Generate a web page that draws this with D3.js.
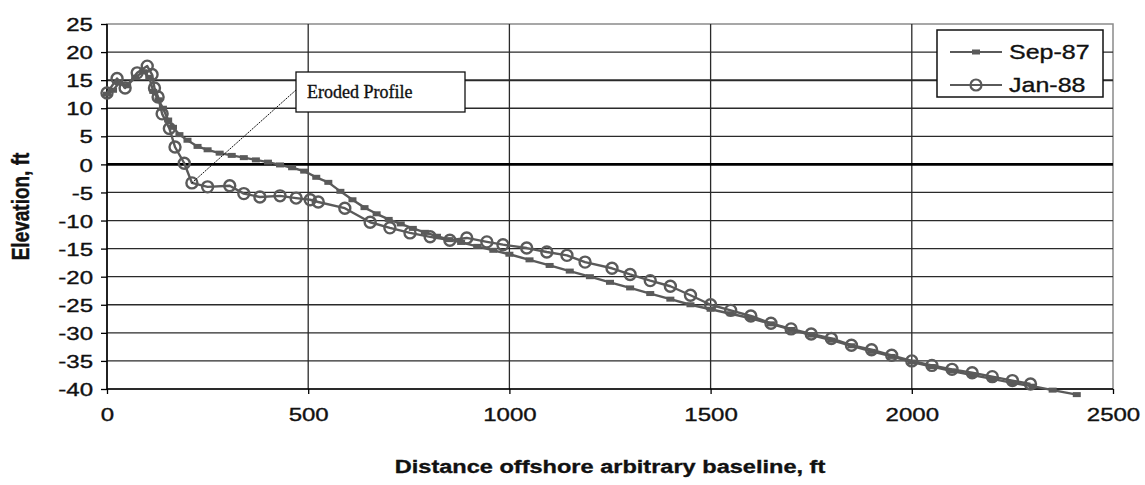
<!DOCTYPE html>
<html>
<head>
<meta charset="utf-8">
<script src="https://cdn.jsdelivr.net/npm/d3@7/dist/d3.min.js"></script>
<style>
  html, body { margin: 0; padding: 0; background: #fff; }
  svg { display: block; }
  text { stroke: #111; stroke-width: 0.35px; }
</style>
</head>
<body>
<svg id="chart" width="1145" height="485"></svg>
<script>
// Beach profile survey: distance offshore (ft) vs. elevation (ft)
const xTicks = [0, 500, 1000, 1500, 2000, 2500];
const yTicks = [25, 20, 15, 10, 5, 0, -5, -10, -15, -20, -25, -30, -35, -40];
const seriesNames = ["Sep-87", "Jan-88"];

const sep87X = [0, 15, 30, 50, 70, 90, 105, 115, 128, 139, 152, 164, 180, 200, 225, 250, 280, 310, 340, 370, 400, 430, 460, 490, 520, 550, 580, 610, 640, 670, 700, 730, 760, 790, 820, 850, 880, 920, 960, 1000, 1050, 1100, 1150, 1200, 1250, 1300, 1350, 1400, 1450, 1500, 1550, 1600, 1650, 1700, 1750, 1800, 1850, 1900, 1950, 2000, 2050, 2100, 2150, 2200, 2250, 2300, 2350, 2410];
const sep87Y = [12.5, 13.2, 14.5, 14, 15.5, 16.5, 15.5, 13, 11.5, 10, 7.9, 6.6, 5.3, 4.3, 3.2, 2.6, 2, 1.6, 1.2, 0.8, 0.4, -0.1, -0.6, -1.2, -2.3, -3.2, -4.8, -6.3, -7.7, -8.8, -9.8, -10.6, -11.4, -12.1, -12.8, -13.4, -13.9, -14.6, -15.3, -16, -17, -18, -19, -20, -21, -22, -23, -24, -25, -25.8, -26.6, -27.4, -28.4, -29.4, -30.4, -31.3, -32.3, -33.3, -34.2, -35.2, -36, -36.8, -37.5, -38.2, -38.9, -39.5, -40.2, -41];

const jan88X = [0, 25, 45, 75, 100, 112, 118, 127, 137, 155, 169, 192, 211, 250, 305, 340, 380, 430, 470, 505, 525, 591, 654, 703, 753, 803, 852, 894, 944, 984, 1043, 1093, 1143, 1188, 1255, 1300, 1350, 1400, 1450, 1500, 1550, 1600, 1650, 1700, 1750, 1800, 1850, 1900, 1950, 2000, 2050, 2100, 2150, 2200, 2250, 2295];
const jan88Y = [12.7, 15.3, 13.6, 16.3, 17.5, 16, 13.6, 12, 9, 6.4, 3.1, 0.2, -3.3, -4, -3.8, -5.2, -5.8, -5.6, -6, -6.3, -6.7, -7.8, -10.3, -11.3, -12.2, -12.9, -13.5, -13.1, -13.8, -14.3, -14.9, -15.6, -16.2, -17.4, -18.5, -19.6, -20.7, -21.7, -23.3, -25, -26, -27, -28.3, -29.3, -30.2, -31, -32.2, -33, -34, -35, -35.8, -36.5, -37.1, -37.8, -38.5, -39.1];

const annotationText = "Eroded Profile";
const annotationTarget = [211, -3.3];
const xTitle = "Distance offshore arbitrary baseline, ft";
const yTitle = "Elevation, ft";

const svg = d3.select("#chart");
const plot = { left: 107, right: 1113, top: 24, bottom: 389 };

const x = d3.scaleLinear().domain([0, 2500]).range([plot.left, plot.right]);
const y = d3.scaleLinear().domain([-40, 25]).range([plot.bottom, plot.top]);

const lineColor = "#5a5a5a";
const font = "'Liberation Sans', Arial, sans-serif";
const wide = 1.3; // horizontal glyph stretch of the sans-serif labels

// plot frame (top/right)
svg.append("rect")
  .attr("x", plot.left).attr("y", plot.top)
  .attr("width", plot.right - plot.left).attr("height", plot.bottom - plot.top)
  .attr("fill", "#fff").attr("stroke", "#8a8a8a").attr("stroke-width", 1.5);

// horizontal gridlines
svg.append("g").selectAll("line")
  .data(yTicks.filter(d => d !== -40 && d !== 0 && d !== 25))
  .join("line")
  .attr("x1", plot.left).attr("x2", plot.right)
  .attr("y1", d => y(d)).attr("y2", d => y(d))
  .attr("stroke", "#2a2a2a").attr("stroke-width", d => d === 15 ? 2 : 1.3);

// vertical gridlines
svg.append("g").selectAll("line")
  .data(xTicks.filter(d => d !== 0 && d !== 2500))
  .join("line")
  .attr("x1", d => x(d)).attr("x2", d => x(d))
  .attr("y1", plot.top).attr("y2", plot.bottom)
  .attr("stroke", "#2a2a2a").attr("stroke-width", 1.3);

// zero line
svg.append("line")
  .attr("x1", plot.left).attr("x2", plot.right)
  .attr("y1", y(0)).attr("y2", y(0))
  .attr("stroke", "#000").attr("stroke-width", 2.6);

// axes
const fmt = d => String(d);
const yAxis = d3.axisLeft(y).tickValues(yTicks).tickSize(6).tickPadding(8).tickFormat(fmt);
const gy = svg.append("g").attr("transform", `translate(${plot.left},0)`).call(yAxis);
const xAxis = d3.axisBottom(x).tickValues(xTicks).tickSize(5).tickPadding(10).tickFormat(fmt);
const gx = svg.append("g").attr("transform", `translate(0,${plot.bottom})`).call(xAxis);

[gx, gy].forEach(g => {
  g.select(".domain").attr("stroke", "#000").attr("stroke-width", 1.6);
  g.selectAll(".tick line").attr("stroke", "#000").attr("stroke-width", 1.3);
  g.selectAll(".tick text").attr("fill", "#111").style("font-family", font).style("font-size", "18.5px");
});
gx.select(".domain").attr("d", `M${plot.left},0H${plot.right}`);
gy.select(".domain").attr("d", `M0,${plot.top}V${plot.bottom}`);
gx.selectAll(".tick text").attr("dy", "0.9em");
gy.selectAll(".tick text").attr("dy", "0.36em");

// stretch tick labels horizontally about their anchor point
[gx, gy].forEach(g => {
  g.selectAll(".tick text").each(function () {
    const t = d3.select(this);
    const tx = +t.attr("x") || 0;
    const ty = +t.attr("y") || 0;
    t.attr("x", 0).attr("y", 0)
      .attr("transform", `translate(${tx},${ty}) scale(${wide},1)`);
  });
});

// axis titles
svg.append("text")
  .attr("transform", `translate(${(plot.left + plot.right) / 2},473) scale(1.24,1)`)
  .attr("text-anchor", "middle")
  .style("font-family", font).style("font-size", "19px").style("font-weight", "bold")
  .attr("fill", "#111")
  .text(xTitle);
svg.append("text")
  .attr("transform", `translate(29,${(plot.top + plot.bottom) / 2}) rotate(-90) scale(1,1.24)`)
  .attr("text-anchor", "middle")
  .style("font-family", font).style("font-size", "19px").style("font-weight", "bold")
  .attr("fill", "#111")
  .text(yTitle);

// series
const sepData = sep87X.map((d, i) => [d, sep87Y[i]]);
const janData = jan88X.map((d, i) => [d, jan88Y[i]]);
const line = d3.line().x(d => x(d[0])).y(d => y(d[1]));

svg.append("path").datum(sepData)
  .attr("d", line).attr("fill", "none")
  .attr("stroke", lineColor).attr("stroke-width", 2.4).attr("stroke-linejoin", "round");
svg.append("g").selectAll("rect")
  .data(sepData)
  .join("rect")
  .attr("x", d => x(d[0]) - 4).attr("y", d => y(d[1]) - 2.5)
  .attr("width", 8).attr("height", 5)
  .attr("fill", lineColor);

svg.append("path").datum(janData)
  .attr("d", line).attr("fill", "none")
  .attr("stroke", lineColor).attr("stroke-width", 2.4).attr("stroke-linejoin", "round");
svg.append("g").selectAll("circle")
  .data(janData)
  .join("circle")
  .attr("cx", d => x(d[0])).attr("cy", d => y(d[1]))
  .attr("r", 5.5)
  .attr("fill", "none")
  .attr("stroke", lineColor).attr("stroke-width", 2.4);

// annotation callout
const box = { x: 296, y: 72, w: 169, h: 40 };
svg.append("line")
  .attr("x1", box.x).attr("y1", box.y + 18)
  .attr("x2", x(annotationTarget[0])).attr("y2", y(annotationTarget[1]))
  .attr("stroke", "#111").attr("stroke-width", 1).attr("stroke-dasharray", "2,1");
svg.append("rect")
  .attr("x", box.x).attr("y", box.y).attr("width", box.w).attr("height", box.h)
  .attr("fill", "#fff").attr("stroke", "#111").attr("stroke-width", 1.3);
svg.append("text")
  .attr("x", box.x + 11).attr("y", box.y + 26)
  .style("font-family", "'Liberation Serif', 'Times New Roman', serif")
  .style("font-size", "18px").attr("fill", "#111")
  .text(annotationText);

// legend
const lg = svg.append("g").attr("transform", "translate(937,30)");
lg.append("rect").attr("width", 166).attr("height", 67)
  .attr("fill", "#fff").attr("stroke", "#111").attr("stroke-width", 1.5);
seriesNames.forEach((name, i) => {
  const cy = 22 + i * 33;
  lg.append("line").attr("x1", 13).attr("x2", 65).attr("y1", cy).attr("y2", cy)
    .attr("stroke", lineColor).attr("stroke-width", 2);
  if (i === 0) {
    lg.append("rect").attr("x", 35).attr("y", cy - 2.5).attr("width", 8).attr("height", 5).attr("fill", lineColor);
  } else {
    lg.append("circle").attr("cx", 39).attr("cy", cy).attr("r", 5.5)
      .attr("fill", "none").attr("stroke", lineColor).attr("stroke-width", 2.2);
  }
  lg.append("text")
    .attr("transform", `translate(72,${cy + 7}) scale(1.22,1)`)
    .style("font-family", font).style("font-size", "20.5px").attr("fill", "#111")
    .text(name);
});
</script>
</body>
</html>
